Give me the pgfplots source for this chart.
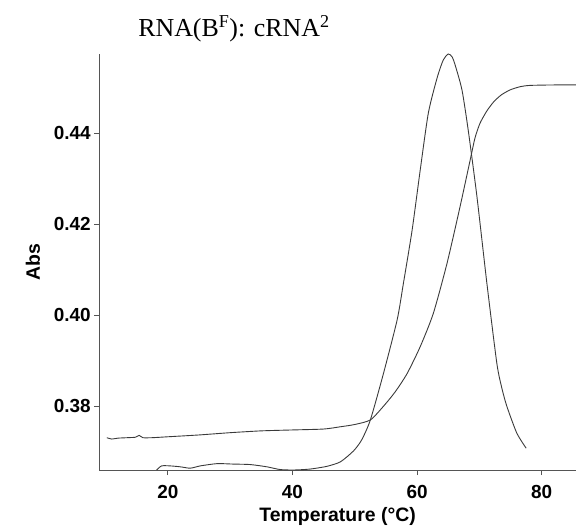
\documentclass[border=0pt]{standalone}
\usepackage{fontspec}
\setmainfont{Liberation Sans}
\newfontfamily\titlefont{Liberation Serif}
\usepackage{pgfplots}
\pgfplotsset{compat=1.18}
\definecolor{curve}{HTML}{3A3A3A}
\definecolor{axisgray}{HTML}{555555}
\begin{document}
\begin{tikzpicture}[x=1bp,y=1bp]
\useasboundingbox (-99.3bp,-61bp) rectangle (476.7bp,470bp);
\begin{axis}[
  at={(0,0)}, anchor=south west,
  scale only axis,
  width=476.7bp, height=416bp,
  xmin=9.0, xmax=85.5,
  ymin=0.366, ymax=0.4574,
  axis x line=bottom, axis y line=left,
  axis line style={-, color=axisgray, line width=0.8bp},
  tick style={color=axisgray, line width=0.8bp},
  tick align=outside,
  major tick length=5bp,
  xtick={20,40,60,80},
  ytick={0.38,0.40,0.42,0.44},
  /pgf/number format/assume math mode=true,
  yticklabel style={/pgf/number format/fixed, /pgf/number format/fixed zerofill, /pgf/number format/precision=2},
  xticklabel style={/pgf/number format/fixed, yshift=-7bp},
  ticklabel style={font=\bfseries\fontsize{19}{19}\selectfont},
  label style={font=\bfseries\fontsize{19.5}{20}\selectfont},
  xlabel={Temperature (°C)},
  xlabel style={yshift=-2bp},
  ylabel={Abs},
  ylabel style={yshift=7bp},
  clip=false,
]
\addplot[color=curve, line width=0.9bp, smooth, tension=0.4] coordinates {
(10.2,0.3731) (11.0,0.3728) (12.0,0.3730) (13.5,0.3731) (14.8,0.3732)
(15.4,0.3736) (16.0,0.3731) (17.5,0.3731) (20,0.3733) (25,0.3737)
(30,0.3742) (35,0.3746) (40,0.3748) (45,0.3750) (47.7,0.3755)
(50,0.3760) (52.5,0.3770) (54.6,0.3800) (56.5,0.3832) (58.4,0.3872)
(60.5,0.3931) (62.6,0.4004) (64.8,0.4114) (66.9,0.4239) (68.5,0.4340)
(69.3,0.4390) (70.1,0.4422) (71.2,0.4449) (72.3,0.4469) (73.5,0.4484) (74.9,0.4495) (76.5,0.4502) (78.1,0.4505) (82,0.4506) (85.5,0.4506)
};
\addplot[color=curve, line width=0.9bp, smooth, tension=0.4] coordinates {
(18.2,0.3660) (19.0,0.3669) (20.4,0.3669) (22.0,0.3667) (23.6,0.3664)
(25.2,0.3669) (27.9,0.3674) (30.5,0.3673) (33.2,0.3672) (35.9,0.3667)
(38.0,0.3661) (40.2,0.3660) (42.8,0.3662) (45.5,0.3668) (47.7,0.3678)
(49.8,0.3702) (51.1,0.3726) (52.5,0.3770) (54.6,0.3872) (56.8,0.3990)
(57.8,0.4070) (59.2,0.4187) (60.5,0.4319) (61.8,0.4444) (63.2,0.4521)
(64.2,0.4561) (65.0,0.4574) (65.6,0.4568) (66.1,0.4550) (67.2,0.4495) (68.2,0.4407)
(69.6,0.4261) (71.2,0.4070) (72.8,0.3894) (73.6,0.3840) (74.4,0.3800) (76.0,0.3741) (77.5,0.3708)
};
\end{axis}
\node[anchor=base, font=\titlefont\fontsize{26}{26}\selectfont, inner sep=0pt] at (134.7bp,433.3bp) {RNA(B\textsuperscript{F}): cRNA\textsuperscript{2}};
\end{tikzpicture}
\end{document}
